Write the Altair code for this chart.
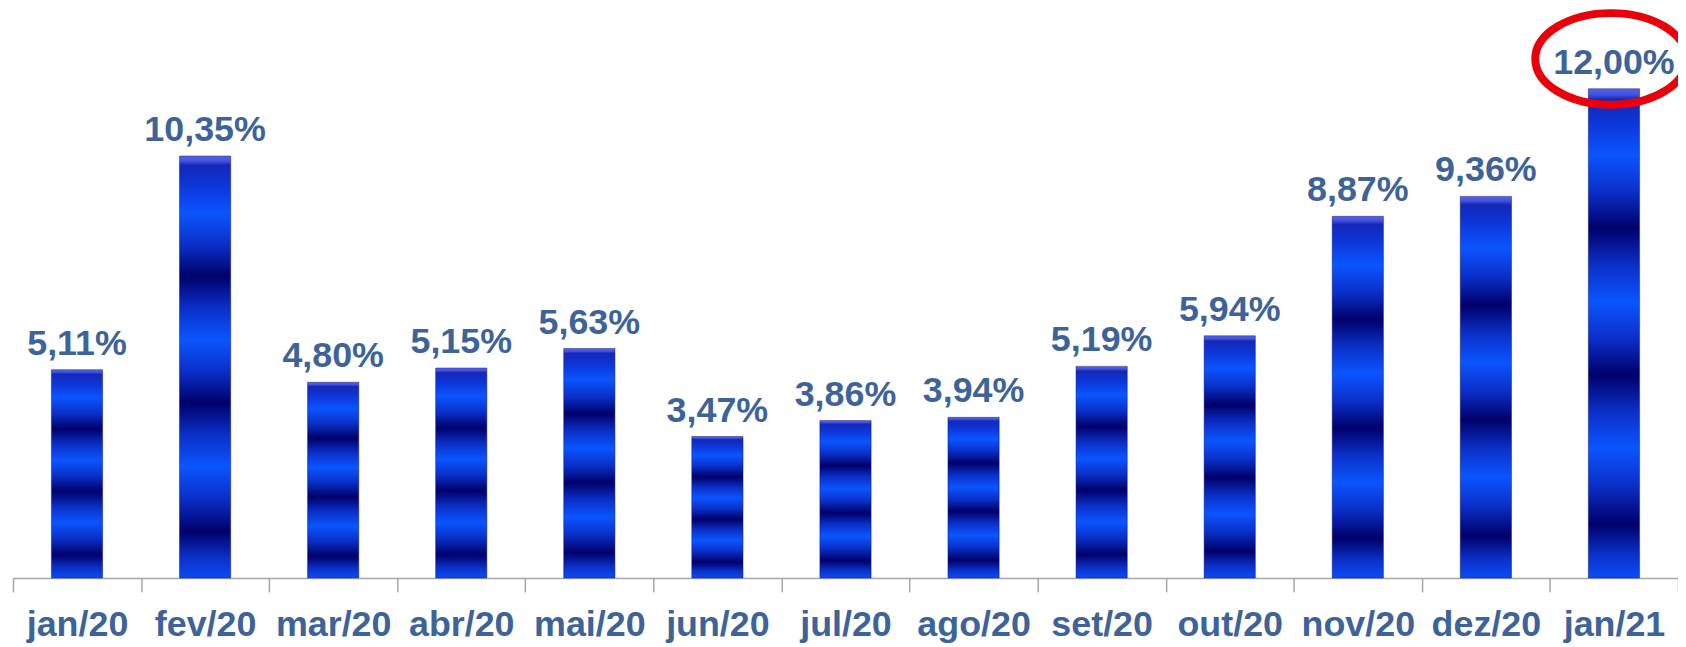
import altair as alt
import pandas as pd

months = ["jan/20", "fev/20", "mar/20", "abr/20", "mai/20", "jun/20", "jul/20",
          "ago/20", "set/20", "out/20", "nov/20", "dez/20", "jan/21"]
values = [5.11, 10.35, 4.80, 5.15, 5.63, 3.47, 3.86, 3.94, 5.19, 5.94, 8.87, 9.36, 12.00]
highlight = "jan/21"

df = pd.DataFrame({
    "mes": months,
    "valor": values,
    "rotulo": [f"{v:.2f}".replace(".", ",") + "%" for v in values],
})

TEXT_COLOR = "#3D6398"
FONT = "Liberation Sans"

stops = [
    (0.0, "#5565ea"), (0.012, "#4352e0"), (0.022, "#1428b8"), (0.07, "#0c36d8"),
    (0.135, "#0a55ff"), (0.21, "#0a30c8"), (0.285, "#00006a"), (0.36, "#0a30c8"),
    (0.435, "#0a55ff"), (0.51, "#0a30c8"), (0.585, "#00006a"), (0.66, "#0a30c8"),
    (0.735, "#0a55ff"), (0.81, "#0a30c8"), (0.89, "#00006a"), (0.95, "#0a30c8"),
    (1.0, "#0a4cf4"),
]
grad = alt.Gradient(
    gradient="linear",
    stops=[alt.GradientStop(offset=o, color=c) for o, c in stops],
    x1=0, x2=0, y1=0, y2=1,
)

x = alt.X(
    "mes:N", sort=months, title=None,
    scale=alt.Scale(paddingInner=0, paddingOuter=0),
    axis=alt.Axis(
        labelAngle=0, labelFont=FONT, labelFontSize=36, labelFontWeight="bold",
        labelColor=TEXT_COLOR, labelPadding=16, tickBand="extent",
        tickSize=14, tickColor="#a6a6a6", tickWidth=1.5,
        domainColor="#a6a6a6", domainWidth=1.5, grid=False,
    ),
)
y = alt.Y("valor:Q", scale=alt.Scale(domain=[0, 13.9], nice=False, zero=True), axis=None)

base = alt.Chart(df)

bars = base.mark_bar(
    color=grad, stroke="#1a1a70", strokeWidth=0.8, strokeOpacity=0.6,
    width=alt.RelativeBandSize(0.4),
).encode(x=x, y=y)

labels = base.mark_text(
    font=FONT, fontSize=36, fontWeight="bold", color=TEXT_COLOR,
    baseline="alphabetic", align="center", dy=-15,
).encode(x=x, y=y, text="rotulo:N")

k = 0.5523
a = 0.605
ak = round(a * k, 4)
ellipse_path = (
    f"M -1 0 C -1 {-ak} {-k} {-a} 0 {-a} "
    f"C {k} {-a} 1 {-ak} 1 0 "
    f"C 1 {ak} {k} {a} 0 {a} "
    f"C {-k} {a} -1 {ak} -1 0 Z"
)
ring = base.transform_filter(alt.datum.mes == highlight).mark_point(
    shape=ellipse_path, size=23104, filled=False, stroke="#e8000b",
    strokeWidth=8, opacity=1, xOffset=-3, yOffset=-30,
).encode(x=x, y=y)

chart = alt.layer(bars, labels, ring).properties(
    width=1672, height=569,
    padding={"left": 5, "top": 2, "right": 0, "bottom": 68},
    autosize=alt.AutoSizeParams(type="none"),
    background="white",
).configure_view(stroke=None)

chart.save("out.html", embed_options={"renderer": "svg", "actions": False})
